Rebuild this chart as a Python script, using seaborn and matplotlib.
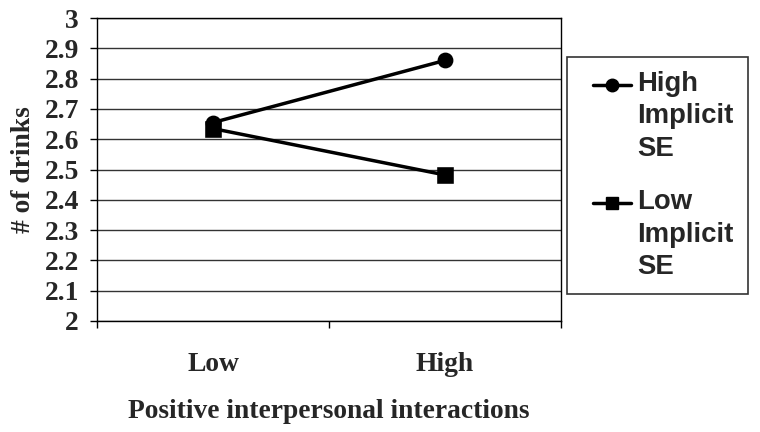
import numpy as np
import pandas as pd
import matplotlib
matplotlib.use("Agg")
import matplotlib.pyplot as plt
import seaborn as sns
from matplotlib.lines import Line2D
from matplotlib.legend_handler import HandlerBase

# 数据
interaction_levels = ["Low", "High"]
high_se_drinks = [2.655, 2.86]
low_se_drinks = [2.635, 2.482]
series_labels = ["High\nImplicit\nSE", "Low\nImplicit\nSE"]
series_markers = ["o", "s"]
y_ticks = [2.0, 2.1, 2.2, 2.3, 2.4, 2.5, 2.6, 2.7, 2.8, 2.9, 3.0]
y_tick_labels = ["2", "2.1", "2.2", "2.3", "2.4", "2.5", "2.6", "2.7", "2.8", "2.9", "3"]

df = pd.DataFrame({
    "interactions": interaction_levels * 2,
    "drinks": high_se_drinks + low_se_drinks,
    "group": [series_labels[0]] * 2 + [series_labels[1]] * 2,
})

sns.set_style("ticks")
serif_bold = dict(family=["Liberation Serif", "DejaVu Serif"], weight="bold", size=19.8)

fig, ax = plt.subplots(figsize=(7.6, 4.32), dpi=100)
fig.subplots_adjust(left=97 / 760, right=561 / 760, top=1 - 18 / 432, bottom=1 - 321 / 432)

sns.pointplot(
    data=df, x="interactions", y="drinks", hue="group",
    order=interaction_levels, hue_order=series_labels,
    palette=["black", "black"], markers=series_markers, linestyles=["-", "-"],
    errorbar=None, legend=False, markersize=9.5, linewidth=2.5, ax=ax,
)

# 坐标轴
ax.set_ylim(2, 3)
ax.set_xlim(-0.5, 1.5)
ax.set_yticks(y_ticks)
ax.set_yticklabels(y_tick_labels, fontdict=serif_bold)
ax.set_xticks(range(len(interaction_levels)))
ax.set_xticklabels(interaction_levels, fontdict=serif_bold)
ax.set_xticks([-0.5, 0.5, 1.5], minor=True)
ax.tick_params(axis="x", which="major", length=0, pad=22)
ax.tick_params(axis="x", which="minor", length=5, width=1, color="black", direction="out")
ax.tick_params(axis="y", length=5, width=1, color="black", direction="out", pad=8)
ax.yaxis.grid(True, color="#333333", linewidth=1)
ax.set_axisbelow(True)
for side in ["left", "right", "bottom", "top"]:
    ax.spines[side].set_visible(True)
    ax.spines[side].set_color("black")
    ax.spines[side].set_linewidth(1)

ax.set_xlabel("Positive interpersonal interactions", fontdict=serif_bold, labelpad=16)
ax.set_ylabel("# of drinks", fontdict=serif_bold, labelpad=6)


# 图例：标记对齐到第一行文字
class TopLineHandler(HandlerBase):
    def create_artists(self, legend, orig_handle, xdescent, ydescent, width, height, fontsize, trans):
        seg = 1.4 * fontsize
        x1 = width - xdescent
        x0 = x1 - seg
        y = (height - ydescent) / 2 + 1.17 * fontsize
        line = Line2D([x0, x1], [y, y], color="black", lw=orig_handle.get_linewidth(), transform=trans)
        mark = Line2D([(x0 + x1) / 2], [y], marker=orig_handle.get_marker(), color="black",
                      ms=orig_handle.get_markersize(), ls="none", transform=trans)
        return [line, mark]


handles = [Line2D([], [], color="black", marker=m, ms=9, lw=2.5) for m in series_markers]
leg = fig.legend(
    handles, series_labels, loc="upper left",
    bbox_to_anchor=(567 / 760, 1 - 57 / 432), bbox_transform=fig.transFigure,
    borderaxespad=0, borderpad=0.5, handlelength=1.84, handletextpad=0.22,
    labelspacing=0.98, frameon=True, fancybox=False, edgecolor="black",
    prop=dict(family=["Liberation Sans", "DejaVu Sans"], weight="bold", size=19.8),
    handler_map={Line2D: TopLineHandler()},
)
leg.get_frame().set_linewidth(1.2)
for t in leg.get_texts():
    t.set_linespacing(1.33)

fig.savefig("out.png", dpi=100)
